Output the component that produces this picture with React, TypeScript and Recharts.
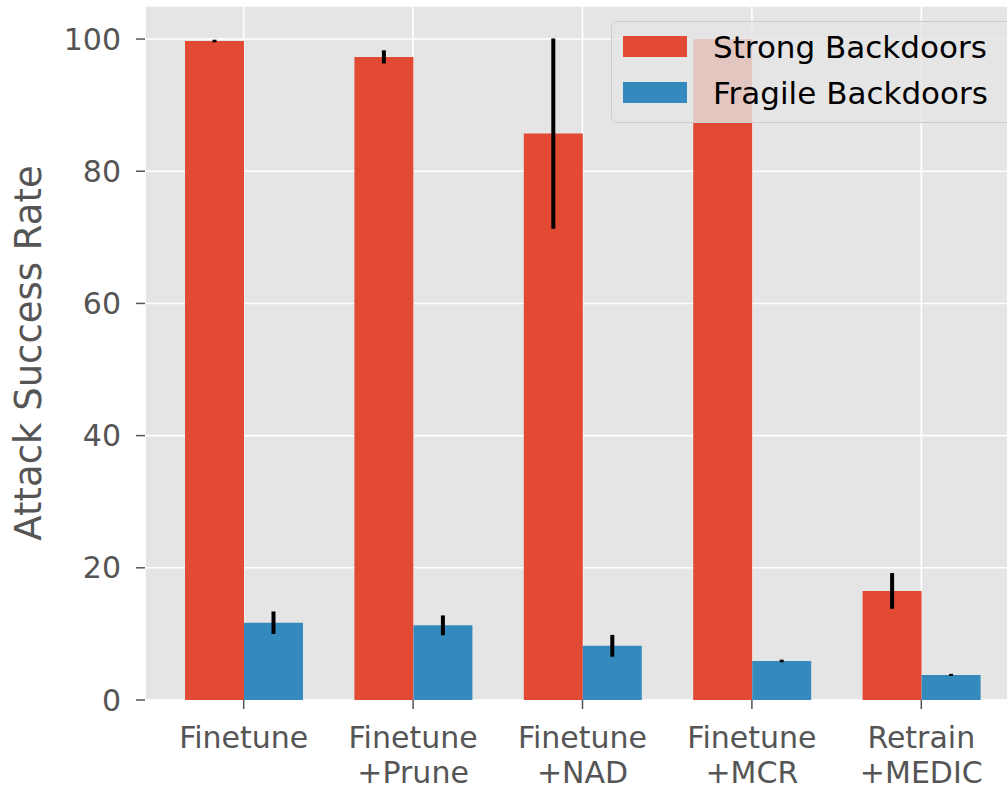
import React from 'react';
import { BarChart, Bar, XAxis, YAxis, CartesianGrid, ErrorBar } from 'recharts';

const categories = ['Finetune', 'Finetune\n+Prune', 'Finetune\n+NAD', 'Finetune\n+MCR', 'Retrain\n+MEDIC'];
const strongValues = [99.7, 97.3, 85.7, 100.0, 16.5];
const strongErr = [0.2, 1.0, 14.4, 0.0, 2.7];
const fragileValues = [11.7, 11.3, 8.2, 5.9, 3.8];
const fragileErr = [1.7, 1.5, 1.65, 0.2, 0.15];
const yTicks = [0, 20, 40, 60, 80, 100];
const seriesNames = ['Strong Backdoors', 'Fragile Backdoors'];

const data = categories.map((name, i) => ({
  name,
  strong: strongValues[i],
  strongErr: strongErr[i],
  fragile: fragileValues[i],
  fragileErr: fragileErr[i],
}));

const FONT = '"DejaVu Sans", sans-serif';
const RED = '#E24A33';
const BLUE = '#348ABD';

const XTick = (props: any) => {
  const { x, y, payload } = props;
  const lines = String(payload.value).split('\n');
  return (
    <g>
      {lines.map((line, i) => (
        <text key={i} x={x} y={y + 37 + i * 35} textAnchor="middle" fill="#555555" fontSize={30} fontFamily={FONT}>
          {line}
        </text>
      ))}
    </g>
  );
};

// legend drawn over the plot, semi-transparent like matplotlib's frame
const LegendBox = () => (
  <div
    style={{
      position: 'absolute',
      left: 611,
      top: 21,
      width: 410,
      height: 100,
      background: 'rgba(229,229,229,0.8)',
      border: '1px solid #cccccc',
      borderRadius: 6,
      fontFamily: FONT,
      fontSize: 31,
      color: '#000',
    }}
  >
    {[
      { label: seriesNames[0], color: RED, top: 14 },
      { label: seriesNames[1], color: BLUE, top: 60 },
    ].map((item) => (
      <div key={item.label} style={{ position: 'absolute', left: 0, top: item.top, height: 22, width: 410 }}>
        <div style={{ position: 'absolute', left: 11, top: 0, width: 64, height: 21, background: item.color }} />
        <div style={{ position: 'absolute', left: 101, top: -7, lineHeight: '36px', whiteSpace: 'nowrap' }}>{item.label}</div>
      </div>
    ))}
  </div>
);

export default function App() {
  return (
    <div style={{ position: 'fixed', left: 0, top: 0, width: 1007, height: 785, overflow: 'hidden', background: '#fff' }}>
      <BarChart
        width={1030}
        height={785}
        data={data}
        margin={{ top: 6, right: 10, bottom: 5, left: 85 }}
        barGap={0}
      >
        <CartesianGrid stroke="#ffffff" strokeWidth={1.6} fill="#E5E5E5" />
        <XAxis
          dataKey="name"
          height={80}
          padding={{ left: 14, right: 14 }}
          axisLine={false}
          tickSize={9}
          tickLine={{ stroke: '#555555', strokeWidth: 1.5 }}
          tick={<XTick />}
          interval={0}
        />
        <YAxis
          width={60}
          domain={[0, 105]}
          ticks={yTicks}
          axisLine={false}
          tickSize={9}
          tickMargin={15}
          tickLine={{ stroke: '#555555', strokeWidth: 1.5 }}
          tick={{ fill: '#555555', fontSize: 30, fontFamily: FONT }}
        />
        <Bar dataKey="strong" name={seriesNames[0]} fill={RED} barSize={59} isAnimationActive={false}>
          <ErrorBar dataKey="strongErr" width={0} stroke="#000" strokeWidth={4} />
        </Bar>
        <Bar dataKey="fragile" name={seriesNames[1]} fill={BLUE} barSize={59} isAnimationActive={false}>
          <ErrorBar dataKey="fragileErr" width={0} stroke="#000" strokeWidth={4} />
        </Bar>
      </BarChart>
      <LegendBox />
      <div
        style={{
          position: 'absolute',
          left: 29,
          top: 353,
          transform: 'translate(-50%, -50%) rotate(-90deg)',
          fontFamily: FONT,
          fontSize: 37,
          color: '#555555',
          whiteSpace: 'nowrap',
          lineHeight: '40px',
        }}
      >
        Attack Success Rate
      </div>
    </div>
  );
}
